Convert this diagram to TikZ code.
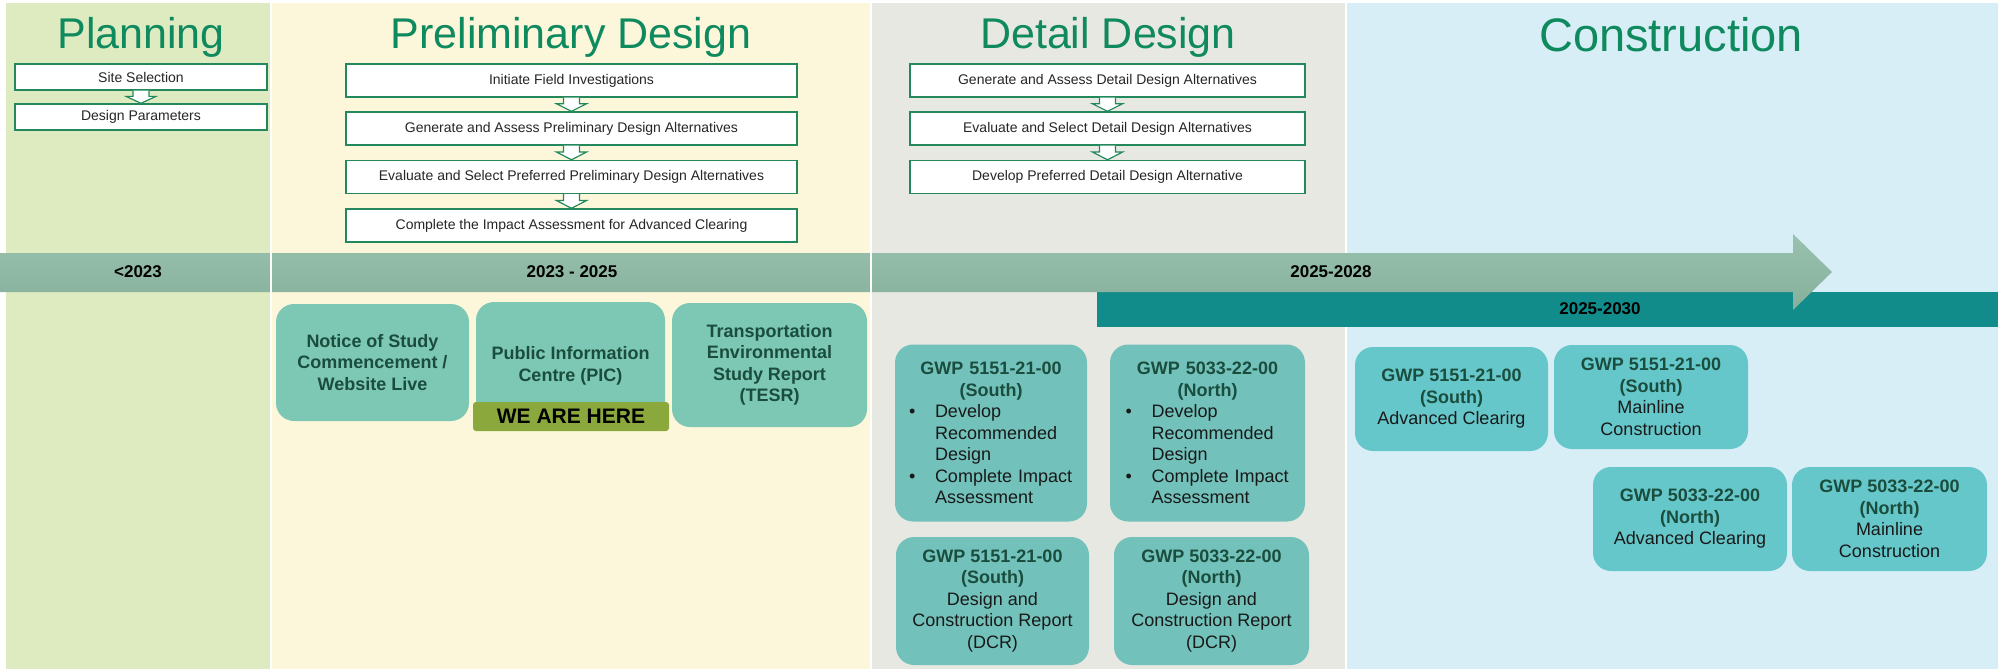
\documentclass[tikz,border=0pt]{standalone}
\usepackage{fontspec}
\setmainfont{Liberation Sans}
\usepackage{tikz}
\usetikzlibrary{calc}
\definecolor{planbg}{HTML}{DEEBC0}
\definecolor{prelbg}{HTML}{FCF7DA}
\definecolor{detbg}{HTML}{E8E8E3}
\definecolor{conbg}{HTML}{D7EEF6}
\definecolor{headgreen}{HTML}{0F8A5F}
\definecolor{boxline}{HTML}{23895C}
\definecolor{bartop}{HTML}{98C2AE}
\definecolor{barbot}{HTML}{86B09C}
\definecolor{tealbar}{HTML}{128C8A}
\definecolor{mintbox}{HTML}{7DC8B4}
\definecolor{detbox}{HTML}{72C2BB}
\definecolor{conbox}{HTML}{66C7CA}
\definecolor{herefill}{HTML}{8BA83C}
\definecolor{darkgreen}{HTML}{1A4D3D}
\tikzset{
  phase/.style={anchor=base, text=headgreen, font=\fontsize{43}{48}\selectfont},
  stepbox/.style={draw=boxline, line width=1.4pt, fill=white, inner sep=0pt,
    text=black!85, font=\fontsize{14}{16}\selectfont},
  flowarrow/.style={draw=boxline, line width=1.2pt, fill=white, line join=miter},
  yearlbl/.style={text=black, font=\fontsize{17}{20}\selectfont\bfseries},
  milestone/.style={rounded corners=18pt, inner sep=0pt, align=center,
    text=darkgreen, font=\fontsize{18}{21.5}\selectfont\bfseries},
  gwpbox/.style={rounded corners=18pt, inner sep=0pt, align=center,
    text=black!90, font=\fontsize{18}{21.5}\selectfont},
}
% hollow block arrow between two step boxes
\newcommand{\blockarrow}[2]{%
  \draw[flowarrow] ($(#1.south)+(-8,0)$) -- ($(#1.south)!0.45!(#2.north)+(-8,0)$)
    -- ++(-7,0) -- (#2.north) -- ($(#1.south)!0.45!(#2.north)+(15,0)$)
    -- ++(-7,0) -- ($(#1.south)+(8,0)$);
}
\newcommand{\gwphead}[2]{{\centering\color{darkgreen}\bfseries #1\\(#2)\par}}
\newcommand{\gwpitem}[1]{\noindent\hangindent=26pt\hangafter=1\makebox[26pt][l]{\textbullet}#1\par}

\begin{document}
\begin{tikzpicture}[x=1pt,y=-1pt]
\useasboundingbox (0,0) rectangle (1998,669);
% phase panels
\fill[planbg] (6,3) rectangle (270,669);
\fill[prelbg] (272,3) rectangle (870,669);
\fill[detbg] (872,3) rectangle (1345,669);
\fill[conbg] (1347,3) rectangle (1998,669);
\node[phase] (planhd) at (141,49) {Planning};
\node[phase] (prelhd) at (571,49) {Preliminary Design};
\node[phase] (dethd) at (1108,49) {Detail Design};
\node[phase, font=\fontsize{47}{52}\selectfont] (conhd) at (1671,52) {Construction};

% planning steps
\node[stepbox, minimum width=252, minimum height=26] (site) at (141,77) {Site Selection};
\node[stepbox, minimum width=252, minimum height=26] (param) at (141,117) {Design Parameters};
\blockarrow{site}{param}

% preliminary design steps
\node[stepbox, minimum width=451, minimum height=33] (field) at (571.5,80.5) {Initiate Field Investigations};
\node[stepbox, minimum width=451, minimum height=33] (genpre) at (571.5,128.5) {Generate and Assess Preliminary Design Alternatives};
\node[stepbox, minimum width=451, minimum height=33] (evalpre) at (571.5,177) {Evaluate and Select Preferred Preliminary Design Alternatives};
\node[stepbox, minimum width=451, minimum height=33] (impact) at (571.5,225.5) {Complete the Impact Assessment for Advanced Clearing};
\blockarrow{field}{genpre}
\blockarrow{genpre}{evalpre}
\blockarrow{evalpre}{impact}

% detail design steps
\node[stepbox, minimum width=395, minimum height=33] (gendet) at (1107.5,80.5) {Generate and Assess Detail Design Alternatives};
\node[stepbox, minimum width=395, minimum height=33] (evaldet) at (1107.5,128.5) {Evaluate and Select Detail Design Alternatives};
\node[stepbox, minimum width=395, minimum height=33] (devdet) at (1107.5,177) {Develop Preferred Detail Design Alternative};
\blockarrow{gendet}{evaldet}
\blockarrow{evaldet}{devdet}

% timeline
\fill[tealbar] (1097,292) rectangle (1998,327);
\shade[top color=bartop, bottom color=barbot] (0,253) -- (1793,253) -- (1793,234) -- (1832,272)
  -- (1793,310) -- (1793,292) -- (0,292) -- cycle;
\draw[white, line width=1.5pt] (271,253) -- (271,292);
\draw[white, line width=1.5pt] (871,253) -- (871,292);
\node[yearlbl] (yr1) at (138,272) {<2023};
\node[yearlbl] (yr2) at (572,272) {2023 - 2025};
\node[yearlbl] (yr3) at (1331,272) {2025-2028};
\node[yearlbl] (yr4) at (1600,309) {2025-2030};

% preliminary design milestones
\node[milestone, fill=mintbox, minimum width=193, minimum height=117] (notice) at (372.5,362.5)
  {Notice of Study\\Commencement /\\Website Live};
\node[milestone, fill=mintbox, minimum width=189, minimum height=128] (pic) at (570.5,366)
  {Public Information\\Centre (PIC)};
\node[fill=herefill, rounded corners=3pt, minimum width=196, minimum height=29, inner sep=0pt,
  font=\fontsize{21}{24}\selectfont\bfseries] (here) at (571,416.5) {WE ARE HERE};
\node[milestone, fill=mintbox, minimum width=195, minimum height=124] (tesr) at (769.5,365)
  {Transportation\\Environmental\\Study Report\\(TESR)};

% detail design milestones
\node[gwpbox, fill=detbox, minimum width=192, minimum height=177, text width=164, align=left] (southdev) at (991,433)
  {\gwphead{GWP 5151-21-00}{South}\gwpitem{Develop\newline Recommended\newline Design}\gwpitem{Complete Impact\newline Assessment}};
\node[gwpbox, fill=detbox, minimum width=195, minimum height=177, text width=164, align=left] (northdev) at (1207.5,433)
  {\gwphead{GWP 5033-22-00}{North}\gwpitem{Develop\newline Recommended\newline Design}\gwpitem{Complete Impact\newline Assessment}};
\node[gwpbox, fill=detbox, minimum width=193, minimum height=128] (southdcr) at (992.5,601)
  {\textcolor{darkgreen}{\textbf{GWP 5151-21-00}}\\\textcolor{darkgreen}{\textbf{(South)}}\\Design and\\Construction Report\\(DCR)};
\node[gwpbox, fill=detbox, minimum width=195, minimum height=128] (northdcr) at (1211.5,601)
  {\textcolor{darkgreen}{\textbf{GWP 5033-22-00}}\\\textcolor{darkgreen}{\textbf{(North)}}\\Design and\\Construction Report\\(DCR)};

% construction milestones
\node[gwpbox, fill=conbox, minimum width=193, minimum height=104] (southclr) at (1451.5,399)
  {\textcolor{darkgreen}{\textbf{GWP 5151-21-00}}\\\textcolor{darkgreen}{\textbf{(South)}}\\Advanced Clearirg};
\node[gwpbox, fill=conbox, minimum width=194, minimum height=104] (southml) at (1651,397)
  {\textcolor{darkgreen}{\textbf{GWP 5151-21-00}}\\\textcolor{darkgreen}{\textbf{(South)}}\\Mainline\\Construction};
\node[gwpbox, fill=conbox, minimum width=194, minimum height=104] (northclr) at (1690,519)
  {\textcolor{darkgreen}{\textbf{GWP 5033-22-00}}\\\textcolor{darkgreen}{\textbf{(North)}}\\Advanced Clearing};
\node[gwpbox, fill=conbox, minimum width=195, minimum height=104] (northml) at (1889.5,519)
  {\textcolor{darkgreen}{\textbf{GWP 5033-22-00}}\\\textcolor{darkgreen}{\textbf{(North)}}\\Mainline\\Construction};
\end{tikzpicture}
\end{document}
